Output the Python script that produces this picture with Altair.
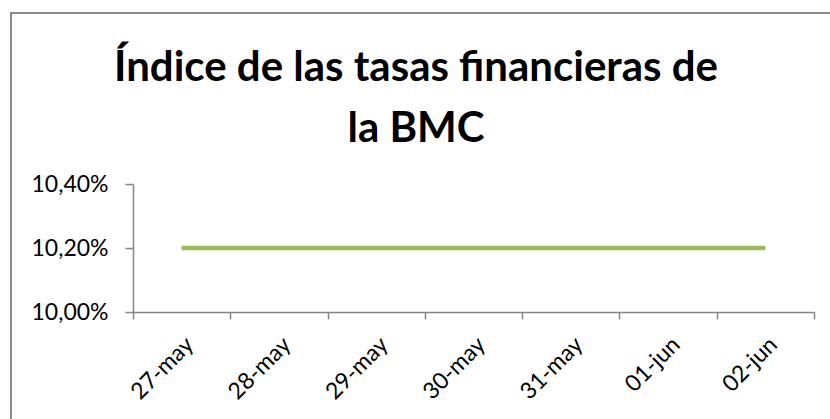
import altair as alt
import pandas as pd

fechas = ["27-may", "28-may", "29-may", "30-may", "31-may", "01-jun", "02-jun"]
tasas = [0.102, 0.102, 0.102, 0.102, 0.102, 0.102, 0.102]
y_ticks = [0.100, 0.102, 0.104]
titulo = ["Índice de las tasas financieras de", "la BMC"]

df = pd.DataFrame({"fecha": fechas, "tasa": tasas})

FONT = "Lato"
GREY = "#868686"

x_enc = alt.X(
    "fecha:N",
    sort=fechas,
    title=None,
    scale=alt.Scale(type="band", paddingInner=0, paddingOuter=0),
    axis=alt.Axis(
        labelAngle=-45,
        labelAlign="right",
        labelBaseline="top",
        labelFontSize=23,
        labelFont=FONT,
        labelColor="black",
        labelPadding=14,
        tickBand="extent",
        tickSize=7,
        tickColor=GREY,
        domainColor=GREY,
        domainWidth=1.5,
        tickWidth=1.5,
        grid=False,
    ),
)

y_enc = alt.Y(
    "tasa:Q",
    title=None,
    scale=alt.Scale(domain=[0.100, 0.104], nice=False, zero=False),
    axis=alt.Axis(
        values=y_ticks,
        labelExpr="replace(format(datum.value, '.2%'), '.', ',')",
        labelFontSize=23,
        labelFont=FONT,
        labelColor="black",
        labelPadding=17,
        tickSize=8,
        tickColor=GREY,
        domainColor=GREY,
        domainWidth=1.5,
        tickWidth=1.5,
        grid=False,
    ),
)

line = alt.Chart(df).mark_line(color="#9BBB59", strokeWidth=4.5).encode(x=x_enc, y=y_enc)

one = pd.DataFrame({"a": [0]})

border = alt.Chart(one).mark_rect(
    fill=None, stroke="#8a8a8a", strokeWidth=2
).encode(
    x=alt.value(11 - 133),
    y=alt.value(13 - 184),
    x2=alt.value(1000),
    y2=alt.value(600),
)

title = alt.Chart(one).mark_text(
    font=FONT,
    fontSize=42,
    fontWeight="bold",
    color="black",
    align="center",
    baseline="alphabetic",
    lineHeight=61,
).encode(
    x=alt.value(416 - 133),
    y=alt.value(81 - 184),
    text=alt.value(titulo),
)

chart = alt.layer(border, title, line).properties(
    width=681,
    height=128,
    padding={"left": 133, "top": 184, "right": 16, "bottom": 107},
    autosize=alt.AutoSizeParams(type="none"),
).configure(background="white").configure_view(stroke=None)

chart.save("out.html", embed_options={"renderer": "svg", "actions": False})
